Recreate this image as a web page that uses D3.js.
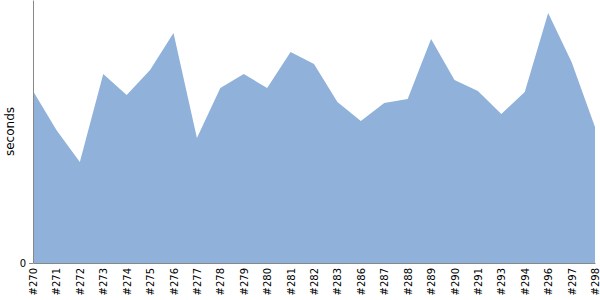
<!DOCTYPE html>
<html lang="en">
<head>
    <meta charset="UTF-8">
    <title>Build times</title>
    <script src="https://d3js.org/d3.v7.min.js"></script>
    <style>
        body { margin: 0; }
        text { font-family: "DejaVu Sans", sans-serif; }
        .axis path, .axis line { stroke: #888; }
    </style>
</head>
<body>
    <svg id="chart" width="600" height="300"></svg>
    <script>
        const builds = ["#270", "#271", "#272", "#273", "#274", "#275", "#276", "#277", "#278", "#279",
            "#280", "#281", "#282", "#283", "#286", "#287", "#288", "#289", "#290", "#291",
            "#293", "#294", "#296", "#297", "#298"];
        const seconds = [1720, 1330, 1010, 1890, 1680, 1930, 2300, 1250, 1750, 1890,
            1750, 2110, 1990, 1610, 1420, 1600, 1640, 2240, 1830, 1720,
            1490, 1710, 2500, 2010, 1360];
        const yTicks = [0];

        const width = 600, height = 300;
        const margin = {top: 0, right: 5, bottom: 37, left: 33};

        const svg = d3.select("#chart");

        const x = d3.scalePoint()
            .domain(builds)
            .range([margin.left, width - margin.right]);

        const y = d3.scaleLinear()
            .domain([0, 2630])
            .range([height - margin.bottom, margin.top]);

        const data = builds.map((b, i) => ({build: b, value: seconds[i]}));

        // Area
        const area = d3.area()
            .x(d => x(d.build))
            .y0(y(0))
            .y1(d => y(d.value));

        svg.append("path")
            .datum(data)
            .attr("d", area)
            .attr("fill", "#8fb1da");

        // X axis
        const xAxis = svg.append("g")
            .attr("class", "axis")
            .attr("transform", `translate(0,${y(0)})`)
            .call(d3.axisBottom(x).tickSize(0).tickSizeOuter(0));

        xAxis.selectAll("text")
            .attr("font-size", "10px")
            .attr("fill", "#000")
            .attr("transform", "rotate(-90)")
            .attr("text-anchor", "end")
            .attr("x", -5)
            .attr("y", 0)
            .attr("dy", "0.35em");

        // Y axis
        const yAxis = svg.append("g")
            .attr("class", "axis")
            .attr("transform", `translate(${margin.left},0)`)
            .call(d3.axisLeft(y).tickValues(yTicks).tickSize(4).tickSizeOuter(0));

        yAxis.selectAll("text")
            .attr("font-size", "10px")
            .attr("fill", "#000");

        // Y label
        svg.append("text")
            .attr("transform", `translate(14,${(y(0) + margin.top) / 2}) rotate(-90)`)
            .attr("text-anchor", "middle")
            .attr("font-size", "12px")
            .text("seconds");
    </script>
</body>
</html>
